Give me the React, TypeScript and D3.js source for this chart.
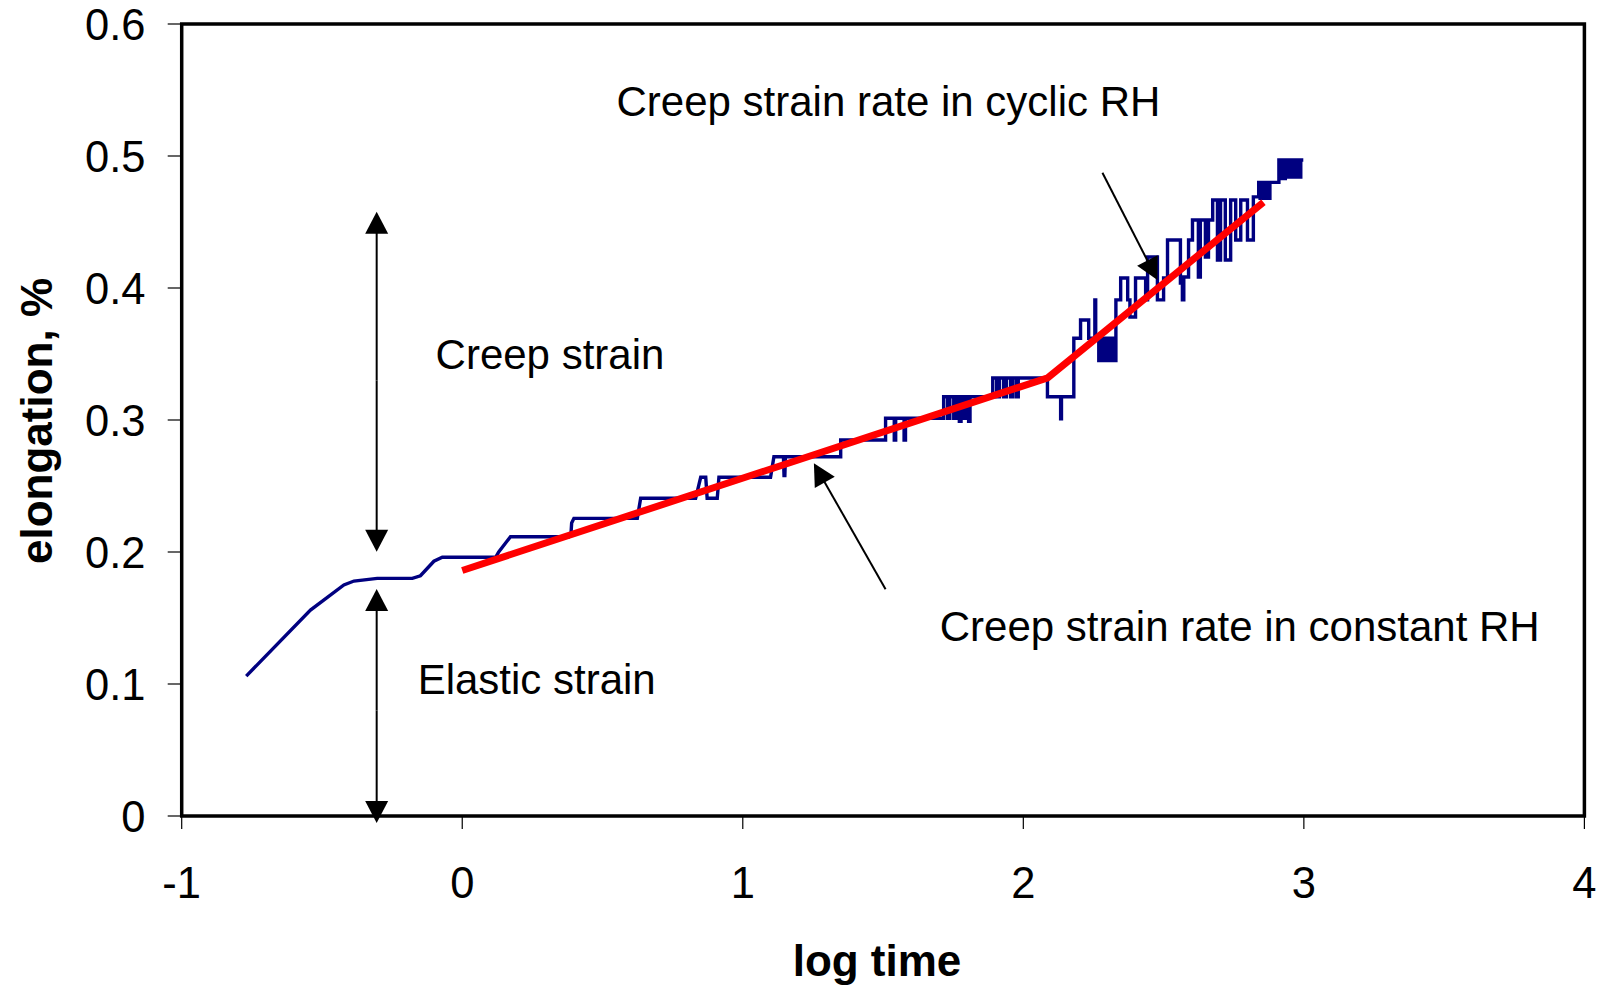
import React from "react";
import * as d3 from "d3";

// ---- data (log time, elongation %) ----
const xTicks = [-1, 0, 1, 2, 3, 4];
const yTicks = [0, 0.1, 0.2, 0.3, 0.4, 0.5, 0.6];
const yTickLabels = ["0", "0.1", "0.2", "0.3", "0.4", "0.5", "0.6"];

const measured: [number, number][] = [
  [-0.770, 0.106], [-0.541, 0.156], [-0.422, 0.175], [-0.386, 0.178], [-0.303, 0.180],
  [-0.178, 0.180], [-0.149, 0.182], [-0.101, 0.193], [-0.071, 0.196], [0.119, 0.196],
  [0.130, 0.200], [0.172, 0.2116], [0.380, 0.2116], [0.388, 0.215], [0.390, 0.222],
  [0.398, 0.2255], [0.624, 0.2255], [0.636, 0.2407], [0.832, 0.2407], [0.850, 0.2566],
  [0.868, 0.2566], [0.873, 0.2407], [0.909, 0.2407], [0.915, 0.2566], [1.099, 0.2566],
  [1.111, 0.2722], [1.145, 0.2722], [1.147, 0.258], [1.150, 0.258], [1.152, 0.2722],
  [1.349, 0.2722], [1.349, 0.2848], [1.509, 0.2848], [1.509, 0.3013], [1.540, 0.3013],
  [1.540, 0.2848], [1.545, 0.2848], [1.545, 0.3013], [1.575, 0.3013], [1.575, 0.2848],
  [1.580, 0.2848], [1.580, 0.3013], [1.716, 0.3013], [1.716, 0.3176], [1.730, 0.3176],
  [1.730, 0.3013], [1.738, 0.3013], [1.738, 0.3176], [1.752, 0.3176], [1.752, 0.3013],
  [1.760, 0.3013], [1.760, 0.3176], [1.772, 0.3176], [1.772, 0.2990], [1.778, 0.2990],
  [1.778, 0.3176], [1.790, 0.3176], [1.790, 0.3013], [1.798, 0.3013], [1.798, 0.3176],
  [1.805, 0.3176], [1.805, 0.2990], [1.810, 0.2990], [1.810, 0.3176], [1.891, 0.3176],
  [1.891, 0.3318], [1.905, 0.3318], [1.905, 0.3176], [1.915, 0.3176], [1.915, 0.3318],
  [1.930, 0.3318], [1.930, 0.3176], [1.940, 0.3176], [1.940, 0.3318], [1.955, 0.3318],
  [1.955, 0.3176], [1.962, 0.3176], [1.962, 0.3318], [1.975, 0.3318], [1.975, 0.3176],
  [1.982, 0.3176], [1.982, 0.3318], [2.086, 0.3318], [2.086, 0.3176], [2.133, 0.3176],
  [2.133, 0.301], [2.136, 0.301], [2.136, 0.3176], [2.180, 0.3176], [2.180, 0.3619],
  [2.204, 0.3619], [2.204, 0.3758], [2.233, 0.3758], [2.233, 0.3619], [2.255, 0.3619],
  [2.255, 0.391], [2.258, 0.391], [2.258, 0.3619], [2.269, 0.3619], [2.269, 0.345],
  [2.276, 0.345], [2.276, 0.3619], [2.283, 0.3619], [2.283, 0.345], [2.290, 0.345],
  [2.290, 0.3619], [2.297, 0.3619], [2.297, 0.345], [2.304, 0.345], [2.304, 0.3619],
  [2.311, 0.3619], [2.311, 0.345], [2.318, 0.345], [2.318, 0.3619], [2.322, 0.3619],
  [2.322, 0.345], [2.330, 0.345], [2.330, 0.391], [2.347, 0.391], [2.347, 0.4076],
  [2.372, 0.4076], [2.372, 0.391], [2.380, 0.391], [2.380, 0.378], [2.400, 0.378],
  [2.400, 0.4076], [2.436, 0.4076], [2.436, 0.391], [2.443, 0.391], [2.443, 0.4235],
  [2.478, 0.4235], [2.478, 0.391], [2.500, 0.391], [2.500, 0.4076], [2.514, 0.4076],
  [2.514, 0.4364], [2.560, 0.4364], [2.560, 0.4038], [2.567, 0.4038], [2.567, 0.391],
  [2.572, 0.391], [2.572, 0.4083], [2.589, 0.4083], [2.589, 0.4364], [2.603, 0.4364],
  [2.603, 0.4515], [2.624, 0.4515], [2.624, 0.4083], [2.631, 0.4083], [2.631, 0.4515],
  [2.649, 0.4515], [2.649, 0.4235], [2.660, 0.4235], [2.660, 0.4515], [2.675, 0.4515],
  [2.675, 0.4667], [2.692, 0.4667], [2.692, 0.4212], [2.703, 0.4212], [2.703, 0.4667],
  [2.720, 0.4667], [2.720, 0.4212], [2.739, 0.4212], [2.739, 0.4667], [2.757, 0.4667],
  [2.757, 0.4364], [2.775, 0.4364], [2.775, 0.4667], [2.799, 0.4667], [2.799, 0.4364],
  [2.820, 0.4364], [2.820, 0.469], [2.839, 0.469], [2.839, 0.480], [2.844, 0.480],
  [2.844, 0.468], [2.849, 0.468], [2.849, 0.480], [2.854, 0.480], [2.854, 0.468],
  [2.859, 0.468], [2.859, 0.480], [2.864, 0.480], [2.864, 0.468], [2.869, 0.468],
  [2.869, 0.480], [2.874, 0.480], [2.874, 0.468], [2.879, 0.468], [2.879, 0.480],
  [2.911, 0.480], [2.911, 0.497], [2.918, 0.497], [2.918, 0.483], [2.923, 0.483],
  [2.923, 0.497], [2.929, 0.497], [2.929, 0.483], [2.934, 0.483], [2.934, 0.497],
  [2.940, 0.497], [2.940, 0.484], [2.945, 0.484], [2.945, 0.497], [2.951, 0.497],
  [2.951, 0.484], [2.956, 0.484], [2.956, 0.497], [2.962, 0.497], [2.962, 0.484],
  [2.967, 0.484], [2.967, 0.497], [2.973, 0.497], [2.973, 0.484], [2.978, 0.484],
  [2.978, 0.497], [2.984, 0.497], [2.984, 0.484], [2.989, 0.484], [2.989, 0.497],
  [2.998, 0.497],
];

const trendLine: [number, number][] = [
  [0, 0.186], [2.087, 0.332], [2.856, 0.465],
];

// annotation arrows: [x1, y1, x2 (tip), y2 (tip)]
const arrows: [number, number, number, number][] = [
  [-0.305, 0.33, -0.305, 0.4577],
  [-0.305, 0.33, -0.305, 0.2002],
  [-0.305, 0.08, -0.305, 0.172],
  [-0.305, 0.08, -0.305, -0.0053],
  [2.282, 0.4873, 2.478, 0.406],
  [1.509, 0.1718, 1.2535, 0.2672],
];

const labels: { text: string; x: number; y: number }[] = [
  { text: "Creep strain rate in cyclic RH", x: 0.550, y: 0.530 },
  { text: "Creep strain", x: -0.095, y: 0.3386 },
  { text: "Elastic strain", x: -0.159, y: 0.0924 },
  { text: "Creep strain rate in constant RH", x: 1.702, y: 0.1326 },
];

const W = 1604;
const H = 987;
const FONT = "'Liberation Sans', Arial, Helvetica, sans-serif";

export default function App() {
  const x = d3.scaleLinear().domain([-1, 4]).range([181.7, 1584.4]);
  const y = d3.scaleLinear().domain([0, 0.6]).range([816, 24]);
  const line = d3
    .line<[number, number]>()
    .x((d) => x(d[0]))
    .y((d) => y(d[1]));

  const arrowHead = (a: [number, number, number, number]) => {
    const x1 = x(a[0]), y1 = y(a[1]), x2 = x(a[2]), y2 = y(a[3]);
    const dx = x2 - x1, dy = y2 - y1;
    const len = Math.hypot(dx, dy);
    const ux = dx / len, uy = dy / len;
    const L = 22, Wd = 11.5;
    const bx = x2 - ux * L, by = y2 - uy * L;
    const pts = [
      [x2, y2],
      [bx - uy * Wd, by + ux * Wd],
      [bx + uy * Wd, by - ux * Wd],
    ];
    return {
      body: `M${x1},${y1}L${bx + ux * 2},${by + uy * 2}`,
      head: pts.map((p) => p.join(",")).join(" "),
    };
  };

  return (
    <svg
      width={W}
      height={H}
      style={{ position: "absolute", left: 0, top: 0, background: "#fff" }}
      fontFamily={FONT}
    >
      <rect x={0} y={0} width={W} height={H} fill="#fff" />
      {/* ticks */}
      {yTicks.map((t) => (
        <line key={"yt" + t} x1={x(-1) - 14} x2={x(-1)} y1={y(t)} y2={y(t)} stroke="#000" strokeWidth={1.2} />
      ))}
      {xTicks.map((t) => (
        <line key={"xt" + t} x1={x(t)} x2={x(t)} y1={y(0)} y2={y(0) + 13} stroke="#000" strokeWidth={1.2} />
      ))}
      {yTicks.map((t, i) => (
        <text key={"yl" + t} x={145.5} y={y(t) + 15.5} textAnchor="end" fontSize={43.5} fill="#000">
          {yTickLabels[i]}
        </text>
      ))}
      {xTicks.map((t) => (
        <text key={"xl" + t} x={x(t)} y={898} textAnchor="middle" fontSize={43.5} fill="#000">
          {String(t)}
        </text>
      ))}
      {/* data */}
      <path d={line(measured) || ""} fill="none" stroke="#000080" strokeWidth={3.4} strokeLinejoin="miter" />
      <path d={line(trendLine) || ""} fill="none" stroke="#ff0000" strokeWidth={7} strokeLinejoin="miter" />
      {/* frame */}
      <rect
        x={x(-1)}
        y={y(0.6)}
        width={x(4) - x(-1)}
        height={y(0) - y(0.6)}
        fill="none"
        stroke="#000"
        strokeWidth={3.5}
      />
      {/* arrows */}
      {arrows.map((a, i) => {
        const h = arrowHead(a);
        return (
          <g key={"ar" + i}>
            <path d={h.body} stroke="#000" strokeWidth={2} fill="none" />
            <polygon points={h.head} fill="#000" />
          </g>
        );
      })}
      {/* labels */}
      {labels.map((l) => (
        <text key={l.text} x={x(l.x)} y={y(l.y)} fontSize={42} fill="#000">
          {l.text}
        </text>
      ))}
      {/* axis titles */}
      <text x={877} y={976} textAnchor="middle" fontSize={44} fontWeight="bold" fill="#000">
        log time
      </text>
      <text
        transform="translate(52,421) rotate(-90)"
        textAnchor="middle"
        fontSize={44}
        fontWeight="bold"
        fill="#000"
      >
        elongation, %
      </text>
    </svg>
  );
}
